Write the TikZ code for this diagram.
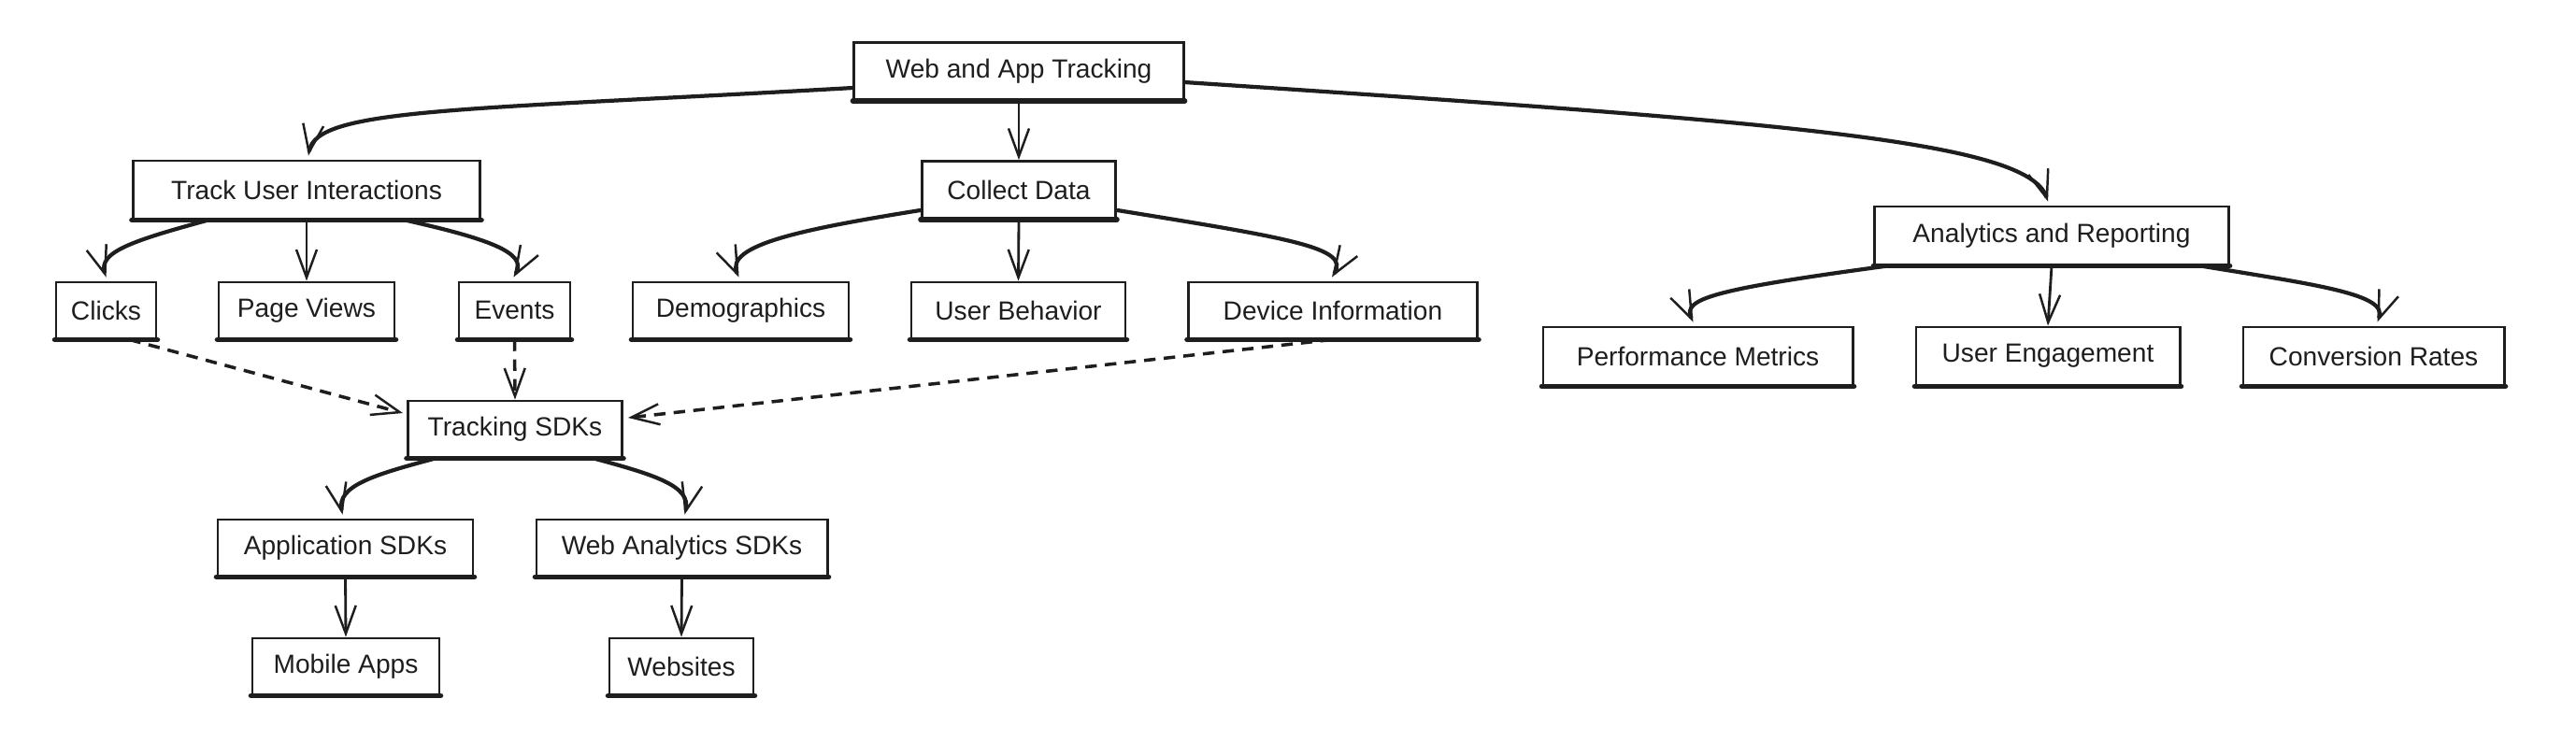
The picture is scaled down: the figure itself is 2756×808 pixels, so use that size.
\documentclass[tikz,border=0pt]{standalone}
\usepackage{fontspec}
\setmainfont{Liberation Sans}
\usetikzlibrary{arrows.meta,calc}
\definecolor{ink}{HTML}{1E1E1E}
\begin{document}
\begin{tikzpicture}[x=0.01cm,y=-0.01cm,
  bx/.style={draw=ink, line width=0.8pt, minimum height=0.6cm, inner sep=0pt, font=\fontsize{8}{10}\selectfont, text=ink,
    append after command={\pgfextra{\let\bxname\tikzlastnode}
      (\tikzlastnode.south west) edge[draw=ink, line width=1.6pt, line cap=round] (\tikzlastnode.south east)}},
  conn/.style={draw=ink, line width=0.8pt, -{Straight Barb[length=3mm,width=2.2mm,line width=0.7pt]}},
  cconn/.style={conn, line width=1.2pt},
  dconn/.style={conn, line width=1pt, dash pattern=on 3.5pt off 2.5pt}]
\fill[white] (0,0) rectangle (2756,808);
\useasboundingbox (0,0) rectangle (2756,808);

% nodes
\node[bx, minimum width=3.52cm, minimum height=0.61cm] (wat) at (1090,76) {Web and App Tracking};
\node[bx, minimum width=3.71cm, minimum height=0.62cm] (tui) at (328,203) {Track User Interactions};
\node[bx, minimum width=2.07cm, minimum height=0.61cm] (cd) at (1090,203) {Collect Data};
\node[bx, minimum width=3.78cm, minimum height=0.62cm] (ar) at (2195,252) {Analytics and Reporting};

\node[bx, minimum width=1.07cm] (clicks) at (113.5,332) {Clicks};
\node[bx, minimum width=1.88cm] (pv) at (328,332) {Page Views};
\node[bx, minimum width=1.19cm] (ev) at (550.5,332) {Events};
\node[bx, minimum width=2.31cm] (demo) at (792.5,332) {Demographics};
\node[bx, minimum width=2.29cm] (ub) at (1089.5,332) {User Behavior};
\node[bx, minimum width=3.09cm] (di) at (1426,332) {Device Information};

\node[bx, minimum width=3.31cm, minimum height=0.62cm] (pm) at (1816.5,381) {Performance Metrics};
\node[bx, minimum width=2.82cm, minimum height=0.62cm] (ue) at (2191,381) {User Engagement};
\node[bx, minimum width=2.79cm, minimum height=0.62cm] (cr) at (2539.5,381) {Conversion Rates};

\node[bx, minimum width=2.29cm] (tsdk) at (551,459) {Tracking SDKs};
\node[bx, minimum width=2.73cm] (asdk) at (369.5,586) {Application SDKs};
\node[bx, minimum width=3.11cm] (wasdk) at (729.5,586) {Web Analytics SDKs};
\node[bx, minimum width=2.00cm] (ma) at (370,713) {Mobile Apps};
\node[bx, minimum width=1.54cm] (web) at (729,713) {Websites};

% connectors from the root
\draw[cconn] ($(wat.west)+(0,18)$) .. controls ($(wat.west)+(-420,42)$) and ($(tui.north)+(10,-55)$) .. ($(tui.north)+(2,-4)$);
\draw[conn] (wat.south) -- (cd.north);
\draw[cconn] ($(wat.east)+(0,12)$) .. controls (1900,130) and (2170,150) .. ($(ar.north)+(-4,-4)$);

% Track User Interactions
\draw[cconn] ($(tui.south)+(-105,0)$) .. controls (140,258) and (105,270) .. ($(clicks.north)+(0,-4)$);
\draw[conn] (tui.south) -- (pv.north);
\draw[cconn] ($(tui.south)+(105,0)$) .. controls (520,255) and (565,270) .. ($(ev.north)+(-1,-4)$);

% Collect Data
\draw[cconn] ($(cd.south west)+(0,-10)$) .. controls (860,245) and (775,262) .. ($(demo.north)+(-2,-4)$);
\draw[conn] (cd.south) -- (ub.north);
\draw[cconn] ($(cd.south east)+(0,-10)$) .. controls (1380,255) and (1445,265) .. ($(di.north)+(-1,-4)$);

% Analytics and Reporting
\draw[cconn] ($(ar.south)+(-175,0)$) .. controls (1830,310) and (1800,320) .. ($(pm.north)+(-5,-4)$);
\draw[conn] (ar.south) -- (ue.north);
\draw[cconn] ($(ar.south)+(159,0)$) .. controls (2480,305) and (2555,315) .. ($(cr.north)+(4,-4)$);

% dashed into Tracking SDKs
\draw[dconn] ($(clicks.south)+(25,0)$) -- ($(tsdk.west)+(-4,-17)$);
\draw[dconn] (ev.south) -- (tsdk.north);
\draw[dconn] ($(di.south)+(-1,0)$) -- ($(tsdk.east)+(5,-12)$);

% Tracking SDKs subtree
\draw[cconn] ($(tsdk.south)+(-85,0)$) .. controls (400,508) and (360,520) .. ($(asdk.north)+(-3,-4)$);
\draw[cconn] ($(tsdk.south)+(84,0)$) .. controls (700,508) and (740,520) .. ($(wasdk.north)+(3,-4)$);
\draw[conn] (asdk.south) -- (ma.north);
\draw[conn] (wasdk.south) -- (web.north);
\end{tikzpicture}
\end{document}
